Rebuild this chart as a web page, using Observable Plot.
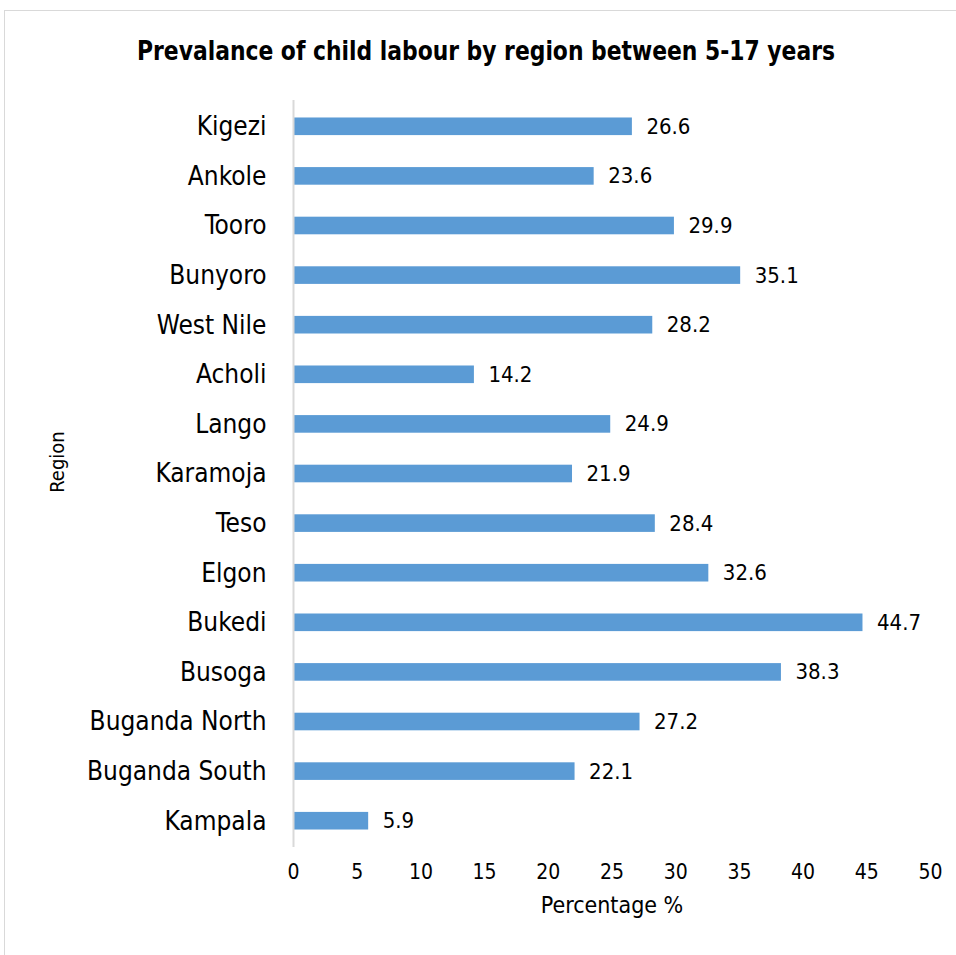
<!DOCTYPE html>
<html>
<head>
<meta charset="utf-8">
<script src="https://cdn.jsdelivr.net/npm/d3@7"></script>
<script src="https://cdn.jsdelivr.net/npm/@observablehq/plot@0.6"></script>
<style>
  html, body { margin: 0; padding: 0; background: #fff; }
  #wrap { position: relative; width: 956px; height: 955px; overflow: hidden; font-family: "Liberation Sans Narrow", "Arial Narrow", "DejaVu Sans Condensed", sans-serif; }
  #frame { position: absolute; left: 4px; top: 10px; width: 1000px; height: 1000px; border: 1.5px solid #d9d9d9; box-sizing: border-box; }
  #title { position: absolute; left: 0; top: 37px; width: 972px; text-align: center; font-weight: bold; font-size: 27px; line-height: 27px; color: #000; transform: scaleX(0.9); transform-origin: 486px 0; white-space: nowrap; }
  #chart { position: absolute; left: 0; top: 0; }
</style>
</head>
<body>
<div id="wrap">
  <div id="frame"></div>
  <div id="chart"></div>
  <div id="title">Prevalance of child labour by region between 5-17 years</div>
</div>
<script>
const regions = ["Kigezi","Ankole","Tooro","Bunyoro","West Nile","Acholi","Lango","Karamoja","Teso","Elgon","Bukedi","Busoga","Buganda North","Buganda South","Kampala"];
const values = [26.6,23.6,29.9,35.1,28.2,14.2,24.9,21.9,28.4,32.6,44.7,38.3,27.2,22.1,5.9];
const xTicks = [0,5,10,15,20,25,30,35,40,45,50];

const data = regions.map((r, i) => ({region: r, value: values[i]}));
const font = '"Liberation Sans Narrow", "Arial Narrow", "DejaVu Sans Condensed", sans-serif';

const chart = Plot.plot({
  width: 956,
  height: 955,
  marginTop: 100,
  marginBottom: 108,
  marginLeft: 293,
  marginRight: 26,
  style: {fontFamily: font, background: "transparent", color: "#000"},
  x: {domain: [0, 50], ticks: xTicks, label: null},
  y: {domain: regions, paddingInner: 0.645, paddingOuter: 0.3525, round: false, label: null},
  marks: [
    Plot.barX(data, {x: "value", y: "region", fill: "#5b9bd5"}),
    Plot.ruleX([0], {stroke: "#d9d9d9", strokeWidth: 2}),
    Plot.text(data, {x: "value", y: "region", text: d => d.value.toFixed(1), textAnchor: "start", dx: 14, fontSize: 22, fill: "#000"}),
    Plot.axisY({tickSize: 0, tickPadding: 27, fontSize: 26, label: null, color: "#000"}),
    Plot.axisX({ticks: xTicks, tickSize: 0, tickPadding: 17, fontSize: 21, label: null, color: "#000"}),
    Plot.text(["Percentage %"], {frameAnchor: "bottom", dy: 65, fontSize: 23, fill: "#000"}),
    Plot.text(["Region"], {frameAnchor: "left", textAnchor: "middle", dx: -236, dy: -12, rotate: -90, fontSize: 20, fill: "#000"})
  ]
});
document.getElementById("chart").appendChild(chart);
</script>
</body>
</html>
